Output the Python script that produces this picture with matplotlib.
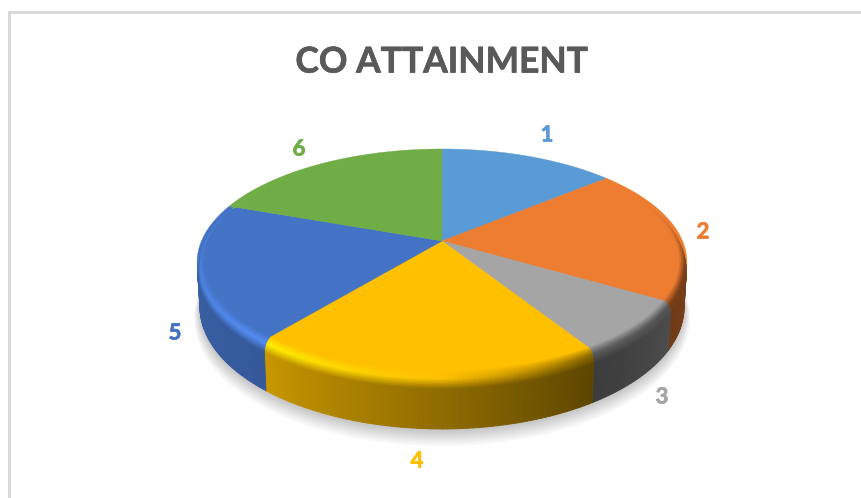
import numpy as np
import matplotlib
matplotlib.use("Agg")
import matplotlib.pyplot as plt
import matplotlib.patheffects as pe
from matplotlib.collections import PolyCollection
from matplotlib.colors import to_rgb

categories = ["1", "2", "3", "4", "5", "6"]
values = [13.9, 19.6, 7.6, 19.8, 19.6, 19.5]
colors = ["#5B9BD5", "#ED7D31", "#A5A5A5", "#FFC000", "#4472C4", "#70AD47"]
title = "CO ATTAINMENT"

# pie geometry in pixels
cx, cy = 442, 241
A, B, k = 240.5, 109.4, 0.189
D = 43


def project(theta, r=1.0, z=0.0):
    # theta is clockwise from 12 o'clock, degrees
    t = np.radians(theta)
    u = r * np.sin(t)
    v = r * np.cos(t)
    s = 1 + k * v
    x = cx + A * u * (1 - 0.012 * z) / s
    y = cy + (-B * v + D * z) / s
    return np.column_stack([x, y])


def side_shade(theta):
    return np.interp(theta % 360, [0, 65, 90, 117, 148, 180, 218, 270, 360],
                     [0.85, 0.85, 0.55, 0.48, 0.36, 0.56, 0.78, 0.85, 0.85])


def rim_light(theta):
    return np.interp(theta % 360, [0, 70, 105, 148, 180, 218, 270, 300, 360],
                     [0.05, 0.0, -0.5, -0.45, 0.0, 0.25, 0.1, 0.05, 0.05])


fig = plt.figure(figsize=(8.62, 4.98), dpi=100)
ax = fig.add_axes([0, 0, 1, 1])
ax.set_xlim(0, 862)
ax.set_ylim(498, 0)
ax.axis("off")

# chart border, only left and top show in the screenshot
ax.plot([9.5, 9.5, 862], [498, 12, 12], color="#D9D9D9", lw=2.2, solid_joinstyle="miter")

ax.text(441.5, 62.5, title, ha="center", va="center", family="Lato", weight="bold",
        fontsize=25.5, color="#595959",
        path_effects=[pe.withStroke(linewidth=0.5, foreground="#595959")])

# soft shadow below the pie
angles = np.linspace(0, 360, 361)
for i in range(12):
    grow = 1 + 0.0024 * i
    pts = project(angles, grow, 1.0 + 0.02 * i)
    pts[:, 1] += 1
    ax.fill(pts[:, 0], pts[:, 1], color="#000000", alpha=0.02, lw=0, zorder=1)

edges = np.concatenate([[0], np.cumsum(values)]) / np.sum(values) * 360

# rounded rim then wall, as (r, z) rings from top face down to the bottom
rim_steps = np.linspace(0, 1, 15)
ring_r = list(0.97 + 0.03 * np.sin(rim_steps * np.pi / 2)) + [1.0]
ring_z = list(0.25 * rim_steps ** 1.5) + [1.0]
ring_t = list(rim_steps) + [1.0]

quads = []
quad_cols = []
for i in range(len(values)):
    base = np.array(to_rgb(colors[i]))
    th = np.arange(edges[i], edges[i + 1] + 1.0, 1.0)
    th[-1] = edges[i + 1]
    th = th[np.concatenate([np.diff(th) > 0, [True]])]
    for a, b in zip(th[:-1], th[1:]):
        mid = (a + b) / 2
        high = np.clip(base * (1 + rim_light(mid)), 0, 1)
        side = base * side_shade(mid)
        for j in range(len(ring_r) - 1):
            p = project(np.array([a, b]), ring_r[j], ring_z[j])
            q = project(np.array([a, b]), ring_r[j + 1], ring_z[j + 1])
            quad = np.array([p[0], p[1], q[1], q[0]])
            # skip faces turned away from the viewer
            ux, uy = quad[1] - quad[0]
            wx, wy = quad[3] - quad[0]
            if ux * wy - uy * wx > 0:
                continue
            t = (ring_t[j] + ring_t[j + 1]) / 2
            if t < 0.5:
                col = base + (high - base) * t / 0.5
            else:
                col = high + (side - high) * (t - 0.5) / 0.5
            quads.append(quad)
            quad_cols.append(np.clip(col, 0, 1))

# top face
for i in range(len(values)):
    th = np.linspace(edges[i], edges[i + 1], 200)
    rim = project(th)
    xs = np.concatenate([[cx], rim[:, 0]])
    ys = np.concatenate([[cy], rim[:, 1]])
    ax.fill(xs, ys, color=colors[i], lw=0.3, ec=colors[i], zorder=3)

ax.add_collection(PolyCollection(quads, facecolors=quad_cols, edgecolors=quad_cols,
                                 linewidths=0.7, zorder=4))

label_xy = [(547, 135), (703, 232), (662, 397), (417, 461), (175, 333), (299, 149)]
for name, col, (lx, ly) in zip(categories, colors, label_xy):
    ax.text(lx, ly, name, ha="center", va="center", family="Lato", weight="bold",
            fontsize=16, color=col, zorder=5,
            path_effects=[pe.withStroke(linewidth=0.5, foreground=col)])

fig.savefig("out.png", dpi=100)
